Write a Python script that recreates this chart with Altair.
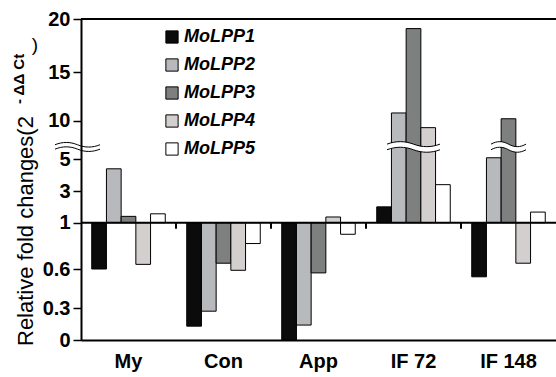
import altair as alt
import pandas as pd

# ---- data ----
groups = ["My", "Con", "App", "IF 72", "IF 148"]
genes = ["MoLPP1", "MoLPP2", "MoLPP3", "MoLPP4", "MoLPP5"]
molpp1 = [0.60, 0.13, 0.0, 2.0, 0.54]
molpp2 = [4.4, 0.27, 0.14, 10.8, 5.2]
molpp3 = [1.4, 0.65, 0.57, 19.1, 10.2]
molpp4 = [0.64, 0.59, 1.36, 9.1, 0.65]
molpp5 = [1.56, 0.82, 0.90, 3.4, 1.67]
baseline_value = 1
y_ticks = [0, 0.3, 0.6, 1, 3, 5, 10, 15, 20]
break_groups = ["IF 72", "IF 148"]
break_value = 6.6
title_main = "Relative fold changes(2"
title_sup = "- ΔΔ Ct"
title_close = ")"

# ---- styles ----
FONT = "Liberation Sans"
colors = ["#0b0b0b", "#b8b9bd", "#7e8080", "#d3cfcf", "#ffffff"]
y_pix = [321, 289, 250, 203.7, 172, 140.3, 101.7, 53.3, 0]
W, H = 475, 321

rows = []
for gi, g in enumerate(groups):
    for gene, vals in zip(genes, [molpp1, molpp2, molpp3, molpp4, molpp5]):
        rows.append({"group": g, "gene": gene, "value": vals[gi], "base": baseline_value})
df = pd.DataFrame(rows)
gdf = pd.DataFrame({"group": groups[1:]})
one = pd.DataFrame({"k": [0]})


def xs():
    return alt.Scale(domain=groups, paddingInner=0, paddingOuter=0)


def xos():
    return alt.Scale(domain=genes, paddingInner=0, paddingOuter=0.73)


def ys():
    return alt.Scale(domain=y_ticks, range=y_pix, zero=False, nice=False)


def xax():
    return alt.Axis(title=None, labelAngle=0, ticks=False, domainWidth=2,
                    domainColor="black", labelFont=FONT, labelFontSize=20,
                    labelFontWeight="bold", labelColor="black", labelPadding=11)


def yax():
    return alt.Axis(values=y_ticks, format="~g", title=None, grid=False,
                    domainWidth=2, domainColor="black", tickColor="black",
                    tickWidth=1.5, tickSize=8, labelFont=FONT, labelFontSize=20,
                    labelFontWeight="bold", labelColor="black", labelPadding=3)


def wave(a, g):
    h = a / 0.75
    r = lambda v: f"{v:.3f}"
    top = (f"M -1 {r(-g)} C -0.667 {r(-g-h)} -0.333 {r(-g-h)} 0 {r(-g)} "
           f"C 0.333 {r(-g+h)} 0.667 {r(-g+h)} 1 {r(-g)}")
    bot = (f"M -1 {r(g)} C -0.667 {r(g-h)} -0.333 {r(g-h)} 0 {r(g)} "
           f"C 0.333 {r(g+h)} 0.667 {r(g+h)} 1 {r(g)}")
    fillp = top + (f" L 1 {r(g)} C 0.667 {r(g+h)} 0.333 {r(g+h)} 0 {r(g)} "
                   f"C -0.333 {r(g-h)} -0.667 {r(g-h)} -1 {r(g)} Z")
    return fillp, top + " " + bot


bars = alt.Chart(df).mark_bar(stroke="black", strokeWidth=1).encode(
    x=alt.X("group:N", sort=groups, scale=xs(), axis=xax()),
    xOffset=alt.XOffset("gene:N", sort=genes, scale=xos()),
    y=alt.Y("value:Q", scale=ys(), axis=yax()),
    y2=alt.Y2("base:Q"),
    fill=alt.Fill("gene:N", sort=genes,
                  scale=alt.Scale(domain=genes, range=colors),
                  legend=alt.Legend(title=None, orient="none", legendX=82, legendY=9,
                                    symbolType="square", symbolSize=150,
                                    symbolStrokeColor="black", symbolStrokeWidth=1,
                                    labelFont=FONT, labelFontSize=18,
                                    labelFontWeight="bold", labelFontStyle="italic",
                                    labelColor="black", labelOffset=3, rowPadding=10)),
)

base_rule = alt.Chart(one).mark_rule(color="black", strokeWidth=2).encode(
    y=alt.Y(datum=baseline_value, type="quantitative", scale=ys(), axis=yax()))
top_rule = alt.Chart(one).mark_rule(color="black", strokeWidth=2).encode(
    y=alt.Y(datum=y_ticks[-1], type="quantitative", scale=ys(), axis=yax()))

ticks = alt.Chart(gdf).mark_tick(color="black", thickness=2, size=6, yOffset=3,
                                 orient="vertical", opacity=1).encode(
    x=alt.X("group:N", sort=groups, scale=xs(), axis=xax(), bandPosition=0),
    y=alt.Y(datum=baseline_value, type="quantitative", scale=ys(), axis=yax()),
)

layers = [bars, base_rule, top_rule, ticks]

bdf = pd.DataFrame({"group": break_groups, "gene": ["MoLPP3", "MoLPP3"],
                    "value": [break_value, break_value]})
for g, width, a, gg in [("IF 72", 53, 2.5, 2.8), ("IF 148", 35, 2.5, 2.8)]:
    half = width / 2
    fp, sp = wave(a / half, gg / half)
    d = bdf[bdf.group == g]
    enc = dict(
        x=alt.X("group:N", sort=groups, scale=xs(), axis=xax()),
        xOffset=alt.XOffset("gene:N", sort=genes, scale=xos()),
        y=alt.Y("value:Q", scale=ys(), axis=yax()),
    )
    layers.append(alt.Chart(d).mark_point(shape=fp, size=width * width, filled=True,
                                          fill="white", strokeWidth=0, opacity=1).encode(**enc))
    layers.append(alt.Chart(d).mark_point(shape=sp, size=width * width, filled=False,
                                          stroke="black", strokeWidth=1, opacity=1).encode(**enc))

# axis break on the y axis
lw = 45
fp, sp = wave(2.3 / (lw / 2), 2.2 / (lw / 2))
layers.append(alt.Chart(one).mark_point(shape=sp, size=lw * lw, filled=False,
                                        stroke="black", strokeWidth=1, opacity=1).encode(
    x=alt.value(-3.5),
    y=alt.Y(datum=break_value, type="quantitative", scale=ys(), axis=yax())))

# y-axis title pieces
tdf = pd.DataFrame({"t": [title_main]})
layers.append(alt.Chart(tdf).mark_text(angle=270, align="left", baseline="alphabetic",
                                       font=FONT, fontSize=22, color="black").encode(
    text="t:N", x=alt.value(-48), y=alt.value(327)))
sdf = pd.DataFrame({"t": [title_sup]})
layers.append(alt.Chart(sdf).mark_text(angle=270, align="left", baseline="alphabetic",
                                       font=FONT, fontSize=15, fontWeight="bold",
                                       color="black").encode(
    text="t:N", x=alt.value(-57), y=alt.value(85)))
cdf = pd.DataFrame({"t": [title_close]})
layers.append(alt.Chart(cdf).mark_text(align="center", baseline="middle",
                                       font=FONT, fontSize=19, color="black").encode(
    text="t:N", x=alt.value(-46), y=alt.value(26)))

chart = alt.layer(*layers).properties(
    width=W, height=H,
    autosize=alt.AutoSizeParams(type="none"),
    padding={"left": 81, "top": 19, "right": 0, "bottom": 37},
).configure_view(stroke=None).configure(background="white")

chart.save("out.html", embed_options={"renderer": "svg", "actions": False})
